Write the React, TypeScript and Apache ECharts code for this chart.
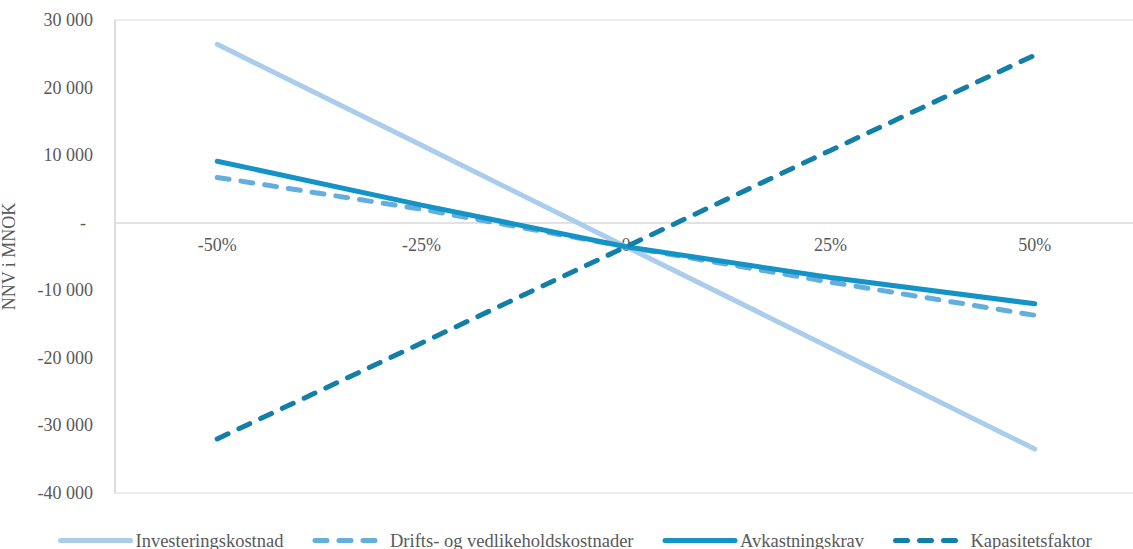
import React, { useEffect, useRef } from "react";
import * as echarts from "echarts";

// Sensitivity of NPV (MNOK) to changes in the key input parameters
const categories = ["-50%", "-25%", "0", "25%", "50%"];
const investeringskostnad = [26400, 11450, -3550, -18500, -33500];
const driftsOgVedlikehold = [6700, 2000, -3550, -8800, -13700];
const avkastningskrav = [9100, 2600, -3550, -8100, -12000];
const kapasitetsfaktor = [-32000, -17800, -3550, 10700, 24800];

const seriesNames = [
  "Investeringskostnad",
  "Drifts- og vedlikeholdskostnader",
  "Avkastningskrav",
  "Kapasitetsfaktor",
];

const Y_MIN = -40000;
const Y_MAX = 30000;

const FONT = "Liberation Serif";
const TEXT = "#595959";
const BORDER = "#d9d9d9";

const GRID_TOP = 20;
const GRID_BOTTOM = 56;
const CHART_H = 549;

function formatThousands(v: number): string {
  if (v === 0) return "{z|-}";
  const s = Math.abs(v).toString().replace(/\B(?=(\d{3})+(?!\d))/g, " ");
  return "{n|" + (v < 0 ? "-" : "") + s + "}";
}

export default function App() {
  const ref = useRef<HTMLDivElement>(null);

  useEffect(() => {
    document.body.style.margin = "0";
    if (!ref.current) return;
    const chart = echarts.init(ref.current, undefined, { renderer: "svg" });

    // the category axis sits on the zero line of the value axis
    const plotH = CHART_H - GRID_TOP - GRID_BOTTOM;
    const zeroFromBottom = (-Y_MIN / (Y_MAX - Y_MIN)) * plotH;

    const dashed = [12, 12];
    const mk = (name: string, data: number[], color: string, dash: boolean) => ({
      name,
      type: "line",
      data,
      symbol: "none",
      lineStyle: {
        color,
        width: 5,
        type: dash ? dashed : "solid",
        cap: "round",
      },
      itemStyle: { color },
    });

    chart.setOption({
      animation: false,
      backgroundColor: "#ffffff",
      grid: {
        left: 115,
        top: GRID_TOP,
        right: -4,
        bottom: GRID_BOTTOM,
        outerBoundsMode: "none",
        containLabel: false,
        show: true,
        borderColor: BORDER,
        borderWidth: 1,
      },
      legend: {
        left: 58,
        top: 531,
        itemWidth: 70,
        itemHeight: 14,
        itemGap: 29,
        padding: 0,
        itemStyle: { opacity: 0 },
        lineStyle: { width: 5, cap: "round" },
        textStyle: { fontFamily: FONT, fontSize: 18.5, color: TEXT },
        data: seriesNames,
      },
      xAxis: {
        type: "category",
        data: categories,
        boundaryGap: true,
        position: "bottom",
        offset: -zeroFromBottom,
        axisLine: { onZero: false, lineStyle: { color: BORDER, width: 1.5 } },
        axisTick: { show: false },
        axisLabel: {
          margin: 13,
          fontFamily: FONT,
          fontSize: 18,
          color: TEXT,
        },
        splitLine: { show: false },
      },
      yAxis: {
        type: "value",
        min: Y_MIN,
        max: Y_MAX,
        interval: 10000,
        name: "NNV i MNOK",
        nameLocation: "middle",
        nameGap: 97,
        nameTextStyle: { fontFamily: FONT, fontSize: 18, color: TEXT },
        axisLine: { show: true, lineStyle: { color: BORDER, width: 1.5 } },
        axisTick: { show: false },
        splitLine: { show: false },
        axisLabel: {
          margin: 22,
          fontFamily: FONT,
          fontSize: 18,
          color: TEXT,
          formatter: formatThousands,
          rich: {
            n: { fontFamily: FONT, fontSize: 18, color: TEXT },
            z: {
              fontFamily: FONT,
              fontSize: 18,
              color: TEXT,
              padding: [0, 7, 0, 0],
            },
          },
        },
      },
      series: [
        mk(seriesNames[0], investeringskostnad, "#a9cdea", false),
        mk(seriesNames[1], driftsOgVedlikehold, "#64aedd", true),
        mk(seriesNames[2], avkastningskrav, "#1494c6", false),
        mk(seriesNames[3], kapasitetsfaktor, "#117fa8", true),
      ],
    });

    return () => chart.dispose();
  }, []);

  return <div ref={ref} style={{ width: 1133, height: 549 }} />;
}
